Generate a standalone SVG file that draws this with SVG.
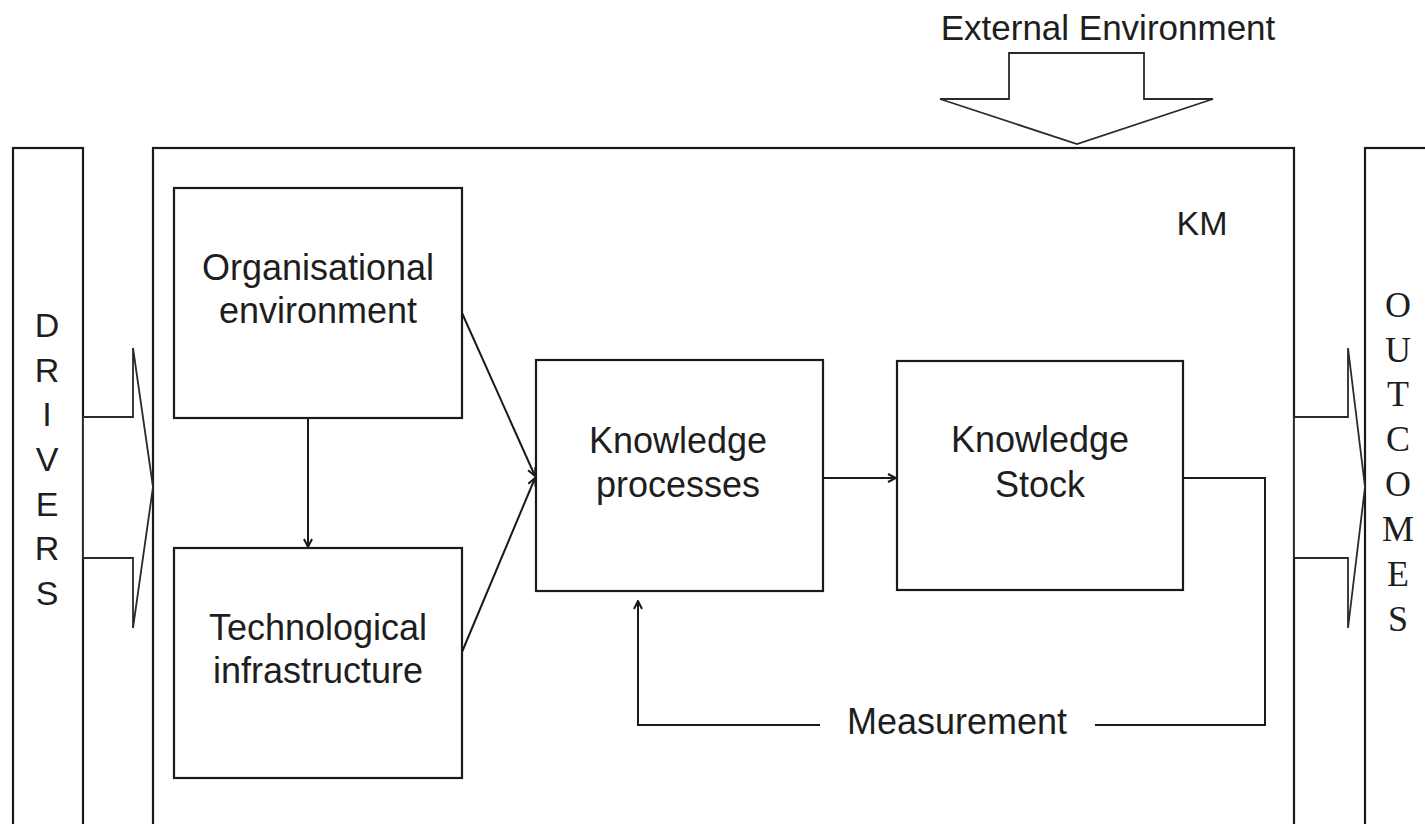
<svg xmlns="http://www.w3.org/2000/svg" width="1425" height="824" viewBox="0 0 1425 824">
<defs>
<style>
.box{fill:#fff;stroke:#1a1a1a;stroke-width:2.2}
.frame{fill:none;stroke:#1a1a1a;stroke-width:2.2}
.big{fill:#fff;stroke:#2a2a2a;stroke-width:1.8;stroke-linejoin:miter}
.con{fill:none;stroke:#1a1a1a;stroke-width:2}
.lbl{font-family:"Liberation Sans",Arial,sans-serif;font-size:36px;fill:#1e1e1e;text-anchor:middle}
.vs{font-family:"Liberation Sans",Arial,sans-serif;font-size:34px;fill:#1e1e1e;text-anchor:middle}
.vr{font-family:"Liberation Serif","Times New Roman",serif;font-size:36px;fill:#1e1e1e;text-anchor:middle}
</style>
<marker id="ah" viewBox="0 0 10 10" refX="9" refY="5" markerWidth="10" markerHeight="10" markerUnits="userSpaceOnUse" orient="auto">
<path d="M1,1 L9,5 L1,9" fill="none" stroke="#1a1a1a" stroke-width="2"/>
</marker>
</defs>
<rect width="1425" height="824" fill="#fff"/>

<g id="external">
<polygon class="big" points="1009,53 1144,53 1144,99 1213,99 1077,144 940,99 1009,99"/>
<text class="lbl" x="1108" y="40" style="font-size:35px">External Environment</text>
</g>

<g id="drivers">
<rect class="frame" x="13" y="148" width="70" height="700"/>
<text class="vs" x="47" y="337">D</text>
<text class="vs" x="47" y="382">R</text>
<text class="vs" x="47" y="426">I</text>
<text class="vs" x="47" y="471">V</text>
<text class="vs" x="47" y="516">E</text>
<text class="vs" x="47" y="560">R</text>
<text class="vs" x="47" y="605">S</text>
</g>

<g id="km">
<rect class="frame" x="153" y="148" width="1141" height="700"/>
<text class="lbl" x="1202" y="235" style="font-size:34px">KM</text>
</g>

<g id="outcomes">
<rect class="frame" x="1365" y="148" width="100" height="700"/>
<text class="vr" x="1398" y="317">O</text>
<text class="vr" x="1398" y="362">U</text>
<text class="vr" x="1398" y="406">T</text>
<text class="vr" x="1398" y="451">C</text>
<text class="vr" x="1398" y="496">O</text>
<text class="vr" x="1398" y="541">M</text>
<text class="vr" x="1398" y="586">E</text>
<text class="vr" x="1398" y="631">S</text>
</g>

<g id="org">
<rect class="box" x="174" y="188" width="288" height="230"/>
<text class="lbl" x="318" y="280">Organisational</text>
<text class="lbl" x="318" y="323">environment</text>
</g>

<g id="tech">
<rect class="box" x="174" y="548" width="288" height="230"/>
<text class="lbl" x="318" y="640">Technological</text>
<text class="lbl" x="318" y="683">infrastructure</text>
</g>

<g id="kp">
<rect class="box" x="536" y="360" width="287" height="231"/>
<text class="lbl" x="678" y="453">Knowledge</text>
<text class="lbl" x="678" y="497">processes</text>
</g>

<g id="ks">
<rect class="box" x="897" y="361" width="286" height="229"/>
<text class="lbl" x="1040" y="452">Knowledge</text>
<text class="lbl" x="1040" y="497">Stock</text>
</g>

<g id="connectors">
<polygon class="big" points="83,417 133,417 133,348 153,487 133,628 133,558 83,558"/>
<polygon class="big" points="1294,417 1348,417 1348,348 1365,487 1348,628 1348,558 1294,558"/>
<line class="con" x1="308" y1="418" x2="308" y2="547" marker-end="url(#ah)"/>
<line class="con" x1="462" y1="313" x2="535" y2="476" marker-end="url(#ah)"/>
<line class="con" x1="462" y1="652" x2="535" y2="478" marker-end="url(#ah)"/>
<line class="con" x1="823" y1="478" x2="896" y2="478" marker-end="url(#ah)"/>
<polyline class="con" points="1183,478 1265,478 1265,725 1095,725"/>
<polyline class="con" points="820,725 638,725 638,601" marker-end="url(#ah)"/>
<text class="lbl" x="957" y="734">Measurement</text>
</g>
</svg>
